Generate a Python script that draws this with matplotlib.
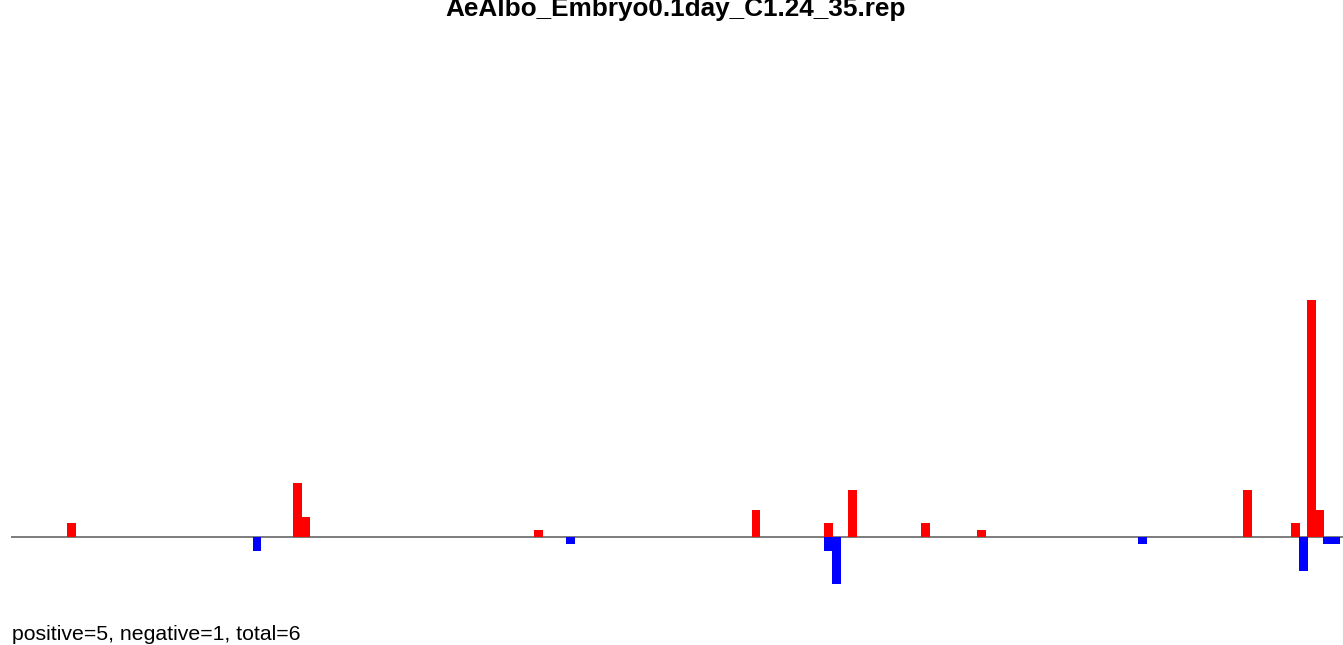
import matplotlib
matplotlib.use("Agg")
import matplotlib.pyplot as plt

title = "AeAlbo_Embryo0.1day_C1.24_35.rep"
summary = "positive=5, negative=1, total=6"

# bin index and count (positive = red, negative = blue)
pos_bins = [7, 35, 36, 65, 92, 101, 104, 113, 120, 153, 159, 161, 162]
pos_vals = [2, 8, 3, 1, 4, 2, 7, 2, 1, 7, 2, 35, 4]
neg_bins = [30, 69, 101, 102, 140, 160, 163, 164]
neg_vals = [-2, -1, -2, -7, -1, -5, -1, -1]

W, H = 1343, 645
fig = plt.figure(figsize=(W / 100, H / 100), dpi=100)
plt.rcParams['font.family'] = ['Liberation Sans', 'DejaVu Sans']

# axes placed so that x=0 is at 11px and y=0 at 537px, one unit ~6.77px
ylo, yhi = -10, 60
unit = 6.77
bottom_px = 537 + (-ylo) * unit
top_px = 537 - yhi * unit
binw = 8.05
xhi = (W - 11) / binw
ax = fig.add_axes([11 / W, 1 - bottom_px / H, (W - 11) / W, (bottom_px - top_px) / H])
ax.set_xlim(0, xhi)
ax.set_ylim(ylo, yhi)
ax.axis('off')

ax.axhline(0, color='#666666', lw=1.2, zorder=1)
ax.bar(pos_bins, pos_vals, width=1.1, align='edge', color='#ff0000', linewidth=0, zorder=2)
ax.bar(neg_bins, neg_vals, width=1.1, align='edge', color='#0000ff', linewidth=0, zorder=2)

fig.text(676 / W, 1 - 16 / H, title, ha='center', va='baseline', fontsize=18.8, fontweight='bold')
fig.text(12 / W, 1 - 640 / H, summary, ha='left', va='baseline', fontsize=15.3)

fig.savefig("out.png", dpi=100)
